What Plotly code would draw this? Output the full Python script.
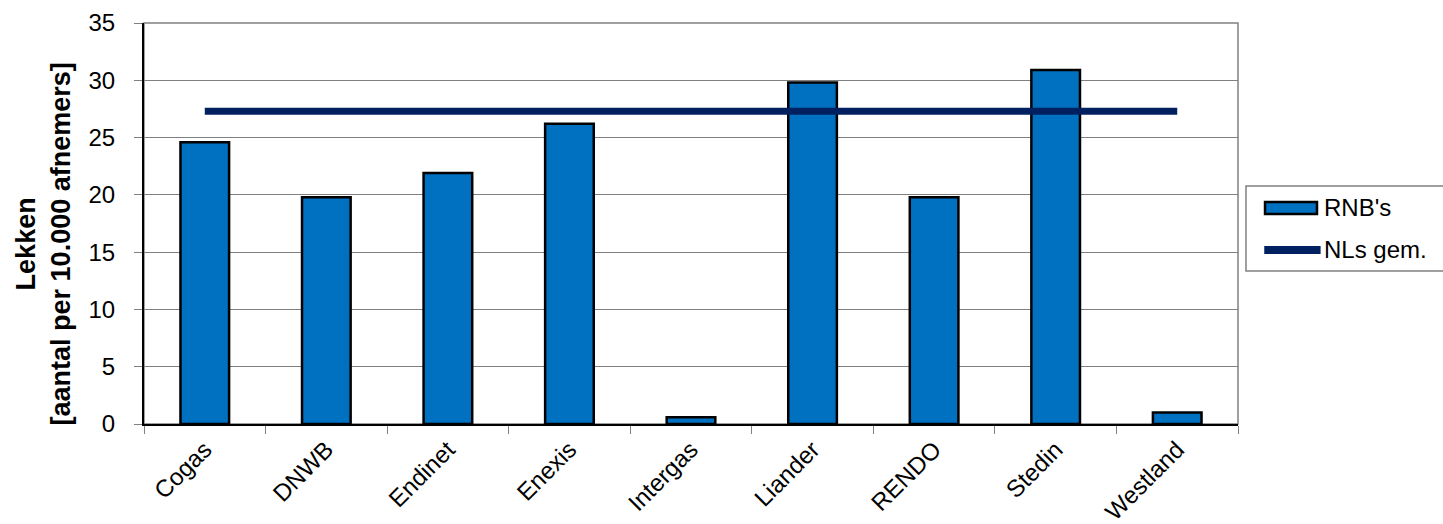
import plotly.graph_objects as go

# Gaslekken per regionale netbeheerder
netbeheerders = ["Cogas", "DNWB", "Endinet", "Enexis", "Intergas",
                 "Liander", "RENDO", "Stedin", "Westland"]
lekken = [24.6, 19.8, 21.9, 26.2, 0.6, 29.8, 19.8, 30.9, 1.0]
nl_gemiddelde = 27.3
y_ticks = [0, 5, 10, 15, 20, 25, 30, 35]
naam_bars = "RNB's"
naam_lijn = "NLs gem."
y_titel = "<b>Lekken<br>[aantal per 10.000 afnemers]</b>"

FONT = "Liberation Sans, Arial, sans-serif"
BAR_COLOR = "#0070C0"
LINE_COLOR = "#002060"

fig = go.Figure()

fig.add_trace(go.Bar(
    x=netbeheerders,
    y=lekken,
    name=naam_bars,
    marker=dict(color=BAR_COLOR, line=dict(color="#000000", width=2.5)),
    width=0.4,
    showlegend=False,
))

fig.add_trace(go.Scatter(
    x=netbeheerders,
    y=[nl_gemiddelde] * len(netbeheerders),
    name=naam_lijn,
    mode="lines",
    line=dict(color=LINE_COLOR, width=7),
    showlegend=False,
))

# grey frame around the plot area
fig.add_shape(type="rect", xref="paper", yref="paper", x0=0, x1=1, y0=0, y1=1,
              line=dict(color="#808080", width=1.5), layer="below")

# legend box drawn beside the plot (wide bar swatch, long line swatch)
fig.add_shape(type="rect", xref="paper", yref="paper",
              x0=1.0073, x1=1.195, y0=0.3815, y1=0.5935,
              line=dict(color="#808080", width=1.5), fillcolor="white")
fig.add_shape(type="rect", xref="paper", yref="paper",
              x0=1.0247, x1=1.0722, y0=0.5237, y1=0.5536,
              line=dict(color="#000000", width=2.5), fillcolor=BAR_COLOR)
fig.add_shape(type="line", xref="paper", yref="paper",
              x0=1.0240, x1=1.0755, y0=0.4339, y1=0.4339,
              line=dict(color=LINE_COLOR, width=8))
for label, ypos in [(naam_bars, 0.540), (naam_lijn, 0.434)]:
    fig.add_annotation(text=label, xref="paper", yref="paper",
                       x=1.0768, y=ypos, xanchor="left", yanchor="middle",
                       showarrow=False, font=dict(size=24, family=FONT))

# y-axis title, placed left of the tick labels
fig.add_annotation(text=y_titel, xref="paper", yref="paper",
                   x=0, y=0.449, xanchor="right", yanchor="middle",
                   xshift=-66, textangle=-90, showarrow=False,
                   font=dict(size=27, family=FONT, color="#000000"))

fig.update_layout(
    width=1443,
    height=524,
    margin=dict(l=144, r=205, t=23, b=100),
    paper_bgcolor="white",
    plot_bgcolor="white",
    font=dict(family=FONT, size=24, color="#000000"),
    showlegend=False,
    xaxis=dict(
        type="category",
        tickangle=-45,
        tickson="boundaries",
        ticks="outside",
        ticklen=8,
        tickcolor="#808080",
        showline=True,
        linecolor="#000000",
        linewidth=2,
        showgrid=False,
        automargin=False,
        tickfont=dict(size=24, family=FONT),
    ),
    yaxis=dict(
        range=[0, 35],
        tickvals=y_ticks,
        ticks="outside",
        ticklen=8,
        tickcolor="#808080",
        showline=True,
        linecolor="#000000",
        linewidth=2,
        showgrid=True,
        gridcolor="#808080",
        gridwidth=1,
        zeroline=False,
        automargin=False,
        tickfont=dict(size=24, family=FONT),
        ticklabelstandoff=14,
    ),
)

fig.write_html("out.html")
